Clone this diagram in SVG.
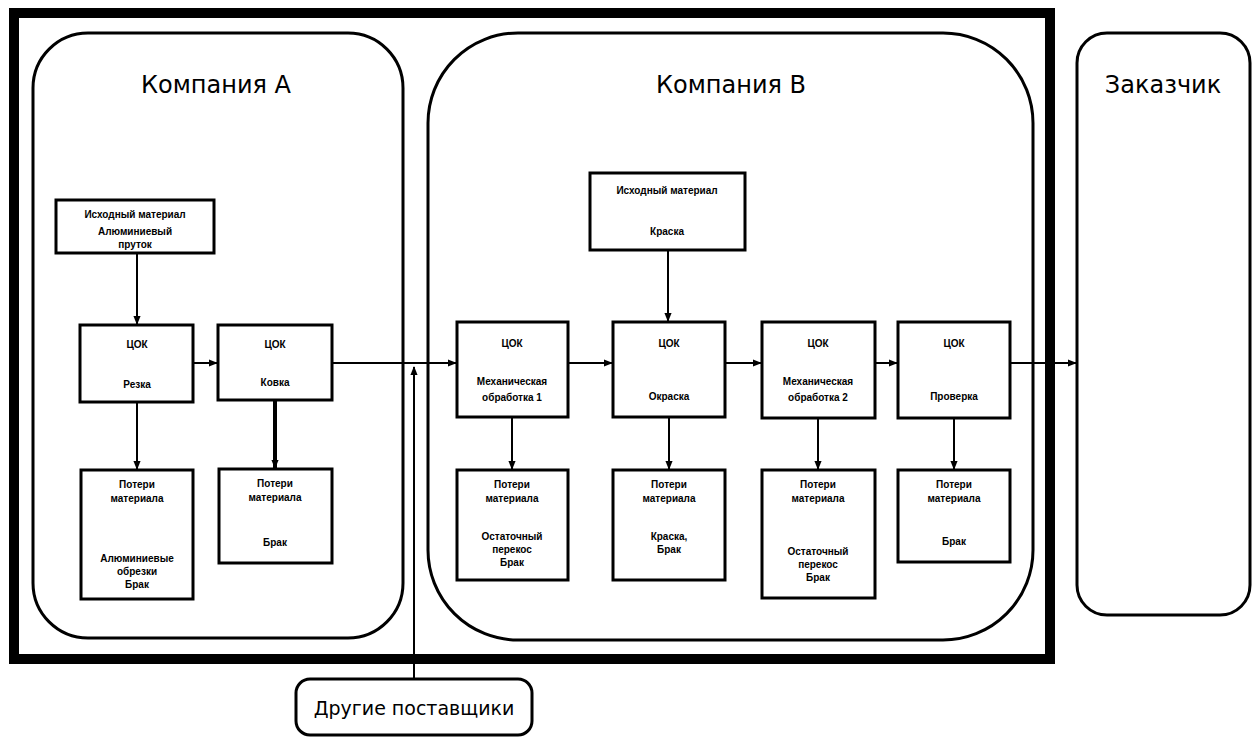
<svg xmlns="http://www.w3.org/2000/svg" width="1260" height="740" viewBox="0 0 1260 740">
<style>
.frame{fill:none;stroke:#000;stroke-width:10}
.zone{fill:#fff;stroke:#000;stroke-width:3}
.box{fill:#fff;stroke:#000;stroke-width:3}
.title{font-family:"DejaVu Sans","Liberation Sans",sans-serif;font-size:24px;text-anchor:middle;fill:#000}
.t{font-family:"Liberation Sans",Arial,sans-serif;font-size:10px;font-weight:bold;text-anchor:middle;fill:#000}
.c{fill:none;stroke:#000;stroke-width:2}
</style>
<defs>
<marker id="ar" viewBox="0 0 10 10" refX="9" refY="5" markerWidth="9" markerHeight="9" markerUnits="userSpaceOnUse" orient="auto">
<path d="M0,1 L10,5 L0,9 z" fill="#000"/>
</marker>
</defs>
<rect width="1260" height="740" fill="#fff"/>
<rect class="frame" x="14" y="13" width="1036" height="646"/>
<g id="companyA"><rect class="zone" x="33" y="33" width="370" height="605" rx="55"/><text class="title" x="216" y="93">Компания А</text></g>
<g id="companyB"><rect class="zone" x="428" y="33" width="605" height="607" rx="90"/><text class="title" x="731" y="93">Компания В</text></g>
<g id="customer"><rect class="zone" x="1077" y="33" width="173" height="582" rx="30"/><text class="title" x="1163" y="93">Заказчик</text></g>
<g id="others"><rect class="zone" x="296" y="679" width="236" height="56" rx="14"/><text class="title" x="414" y="715" style="font-size:19px">Другие поставщики</text></g>

<g id="srcA"><rect class="box" x="56" y="200" width="158" height="53"/><text class="t" x="135" y="218">Исходный материал</text><text class="t" x="135" y="235">Алюминиевый</text><text class="t" x="135" y="248">пруток</text></g>
<g id="cutA"><rect class="box" x="80" y="325" width="113" height="77"/><text class="t" x="137" y="348">ЦОК</text><text class="t" x="137" y="388">Резка</text></g>
<g id="forgeA"><rect class="box" x="218" y="325" width="114" height="75"/><text class="t" x="275" y="348">ЦОК</text><text class="t" x="275" y="386">Ковка</text></g>
<g id="loss1"><rect class="box" x="81" y="470" width="112" height="129"/><text class="t" x="137" y="488">Потери</text><text class="t" x="137" y="502">материала</text><text class="t" x="137" y="562">Алюминиевые</text><text class="t" x="137" y="575">обрезки</text><text class="t" x="137" y="588">Брак</text></g>
<g id="loss2"><rect class="box" x="219" y="469" width="113" height="94"/><text class="t" x="275" y="487">Потери</text><text class="t" x="275" y="501">материала</text><text class="t" x="275" y="546">Брак</text></g>

<g id="srcB"><rect class="box" x="590" y="173" width="155" height="77"/><text class="t" x="667" y="194">Исходный материал</text><text class="t" x="667" y="235">Краска</text></g>
<g id="mech1"><rect class="box" x="457" y="322" width="111" height="95"/><text class="t" x="512" y="347">ЦОК</text><text class="t" x="512" y="385">Механическая</text><text class="t" x="512" y="401">обработка 1</text></g>
<g id="paint"><rect class="box" x="613" y="322" width="112" height="95"/><text class="t" x="669" y="347">ЦОК</text><text class="t" x="669" y="400">Окраска</text></g>
<g id="mech2"><rect class="box" x="762" y="322" width="113" height="96"/><text class="t" x="818" y="347">ЦОК</text><text class="t" x="818" y="385">Механическая</text><text class="t" x="818" y="401">обработка 2</text></g>
<g id="check"><rect class="box" x="898" y="322" width="112" height="96"/><text class="t" x="954" y="347">ЦОК</text><text class="t" x="954" y="400">Проверка</text></g>
<g id="loss3"><rect class="box" x="457" y="470" width="111" height="110"/><text class="t" x="512" y="488">Потери</text><text class="t" x="512" y="502">материала</text><text class="t" x="512" y="540">Остаточный</text><text class="t" x="512" y="553">перекос</text><text class="t" x="512" y="566">Брак</text></g>
<g id="loss4"><rect class="box" x="613" y="470" width="112" height="110"/><text class="t" x="669" y="488">Потери</text><text class="t" x="669" y="502">материала</text><text class="t" x="669" y="540">Краска,</text><text class="t" x="669" y="553">Брак</text></g>
<g id="loss5"><rect class="box" x="762" y="470" width="113" height="128"/><text class="t" x="818" y="488">Потери</text><text class="t" x="818" y="502">материала</text><text class="t" x="818" y="555">Остаточный</text><text class="t" x="818" y="568">перекос</text><text class="t" x="818" y="581">Брак</text></g>
<g id="loss6"><rect class="box" x="898" y="470" width="112" height="92"/><text class="t" x="954" y="488">Потери</text><text class="t" x="954" y="502">материала</text><text class="t" x="954" y="545">Брак</text></g>

<g id="connectors">
<path class="c" d="M137,253 V324" marker-end="url(#ar)"/>
<path class="c" d="M193,363 H217" marker-end="url(#ar)"/>
<path class="c" d="M137,402 V469" marker-end="url(#ar)"/>
<path class="c" d="M275,400 V468" style="stroke-width:4" marker-end="url(#ar)"/>
<path class="c" d="M332,363 H456" marker-end="url(#ar)"/>
<path class="c" d="M414,679 V367" marker-end="url(#ar)"/>
<path class="c" d="M668,250 V321" marker-end="url(#ar)"/>
<path class="c" d="M568,363 H612" marker-end="url(#ar)"/>
<path class="c" d="M725,363 H761" marker-end="url(#ar)"/>
<path class="c" d="M875,363 H897" marker-end="url(#ar)"/>
<path class="c" d="M1010,363 H1076" marker-end="url(#ar)"/>
<path class="c" d="M512,417 V469" marker-end="url(#ar)"/>
<path class="c" d="M669,417 V469" marker-end="url(#ar)"/>
<path class="c" d="M818,418 V469" marker-end="url(#ar)"/>
<path class="c" d="M954,418 V469" marker-end="url(#ar)"/>
</g>
</svg>
